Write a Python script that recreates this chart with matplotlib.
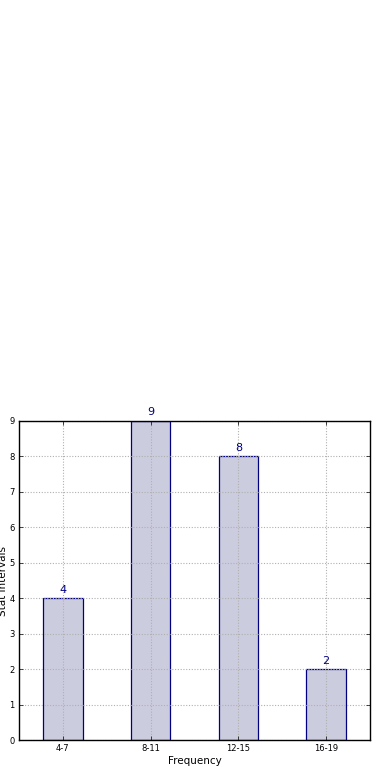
import numpy as np
import matplotlib
matplotlib.use('Agg')
import matplotlib.pyplot as plt

# data
intervals = ['4-7', '8-11', '12-15', '16-19']
counts = [4, 9, 8, 2]

fig = plt.figure(figsize=(3.9, 7.8), dpi=100)
ax = fig.add_axes([19/390., 1 - 740/780., 351/390., 319/780.])

x = np.arange(len(intervals))
bars = ax.bar(x, counts, width=0.45, color='#ccccdf', edgecolor='#000080', linewidth=0.9, zorder=1)

for xi, c in zip(x, counts):
    ax.text(xi, c + 0.1, str(c), ha='center', va='bottom', color='#000080', fontsize=8)

ax.set_xlim(-0.5, 3.5)
ax.set_ylim(0, 9)
ax.set_xticks(x)
ax.set_xticklabels(intervals)
ax.set_yticks(range(10))
ax.tick_params(direction='in', top=True, right=True, labelsize=6, length=3, width=0.5, pad=3)
ax.grid(True, linestyle=(0, (1, 1.5)), color='#b0b0b0', linewidth=0.8, zorder=3)
ax.set_axisbelow(False)
for s in ax.spines.values():
    s.set_linewidth(1.0)
    s.set_zorder(4)

ax.set_xlabel('Frequency', fontsize=7.5, labelpad=2)
ax.set_ylabel('Stat Intervals', fontsize=7.5, labelpad=1)

fig.savefig('out.png', dpi=100)
